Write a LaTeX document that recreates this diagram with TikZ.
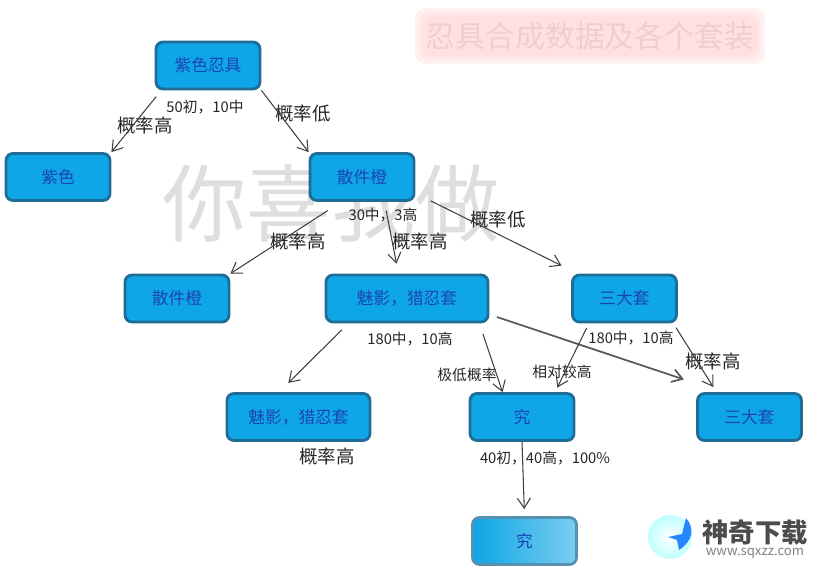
\documentclass[tikz,border=0pt]{standalone}
\usepackage{fontspec}
\setmainfont{Noto Sans CJK SC}
\usetikzlibrary{arrows.meta}
\definecolor{boxblue}{HTML}{0EA6E6}
\definecolor{boxtext}{HTML}{1B45B5}
\definecolor{boxline}{HTML}{1F6C96}
\newcommand{\zhc}{\char"FF0C\relax}
\tikzstyle{arrow}=[draw=black!75, line width=0.6pt, ->, >={Straight Barb[length=2mm, width=2.6mm]}]
\tikzstyle{box}=[draw=boxline, line width=1.6pt, fill=boxblue, rounded corners=4pt, minimum width=2.08cm, minimum height=0.94cm, text=boxtext, font=\fontsize{9.5}{11}\selectfont, inner sep=0pt]
\tikzstyle{small}=[text=black!85, font=\fontsize{8.4}{10}\selectfont, inner sep=0pt]
\tikzstyle{big}=[text=black!85, font=\fontsize{10.5}{12}\selectfont, inner sep=0pt]

\begin{document}
\begin{tikzpicture}
	\useasboundingbox (0, 0) rectangle (16.38, 11.58);
	% watermark and title
	\node (mark) at (6.62, 7.50) {\textcolor{black!13}{\fontsize{48}{52}\selectfont 你喜我做}};
	\foreach \s in {0.20, 0.12, 0.05}
		\fill[pink!70, opacity=0.3, rounded corners=6pt] (8.50-\s, 10.50-\s) rectangle (15.10+\s, 11.22+\s);
	\node (title) at (11.80, 10.86) {\textcolor{black!12!pink!55}{\fontsize{17}{20}\selectfont 忍具合成数据及各个套装}};
	% first row
	\node[box] (top) at (4.16, 10.27) {紫色忍具};
	\node[box] (purple) at (1.16, 8.04) {紫色};
	\node[box] (orange) at (7.24, 8.04) {散件橙};
	% second row
	\node[box] (orange2) at (3.54, 5.61) {散件橙};
	\node[box, minimum width=3.24cm] (phantom) at (8.14, 5.61) {魅影\zhc 猎忍套};
	\node[box] (three) at (12.49, 5.61) {三大套};
	% third row
	\node[box, minimum width=2.86cm] (phantom2) at (5.97, 3.24) {魅影\zhc 猎忍套};
	\node[box] (jiu) at (10.44, 3.24) {究};
	\node[box] (three2) at (14.99, 3.24) {三大套};
	\node[box, left color=boxblue, right color=boxblue!55!white, draw=boxline!75] (jiu2) at (10.49, 0.76) {究};
	% labels
	\node[small] (l1) at (4.10, 9.44) {50初\zhc 10中};
	\node[big] (l2) at (2.90, 9.08) {概率高};
	\node[big] (l3) at (6.06, 9.32) {概率低};
	\node[small] (l4) at (7.66, 7.28) {30中\zhc 3高};
	\node[big] (l5) at (5.96, 6.76) {概率高};
	\node[big] (l6) at (8.40, 6.76) {概率高};
	\node[big] (l7) at (9.96, 7.20) {概率低};
	\node[small] (l8) at (8.20, 4.80) {180中\zhc 10高};
	\node[small] (l9) at (9.34, 4.08) {极低概率};
	\node[small] (l10) at (11.24, 4.14) {相对较高};
	\node[small] (l11) at (12.62, 4.82) {180中\zhc 10高};
	\node[big] (l12) at (14.26, 4.36) {概率高};
	\node[big] (l13) at (6.54, 2.46) {概率高};
	\node[small] (l14) at (10.90, 2.42) {40初\zhc 40高\zhc 100\%};
	% arrows
	\draw[arrow, shorten <=0.16cm] (top.208) -- (purple.north east);
	\draw[arrow] (top.south east) -- (orange.north west);
	\draw[arrow, shorten <=0.32cm] (orange.230) -- (orange2.north east);
	\draw[arrow, shorten <=0.18cm, shorten >=0.2cm] (orange.312) -- (phantom.109);
	\draw[arrow, shorten <=0.34cm, shorten >=0.36cm] (orange.343) -- (three.152);
	\draw[arrow, shorten <=0.18cm, shorten >=0.26cm] (phantom.203) -- (phantom2.128);
	\draw[arrow, shorten <=0.22cm] (phantom.341) -- (jiu.128);
	\draw[arrow, line width=1pt, draw=black!65, shorten <=0.16cm, shorten >=0.8cm] (phantom.349) -- (three2.138);
	\draw[arrow, shorten <=0.1cm, shorten >=0.1cm] (three.215) -- (jiu.37);
	\draw[arrow, shorten <=0.1cm, shorten >=0.12cm] (three.333) -- (three2.143);
	\draw[arrow, shorten >=0.14cm] (jiu.south) -- (jiu2.north);
	% logo
	\shade[inner color=white, outer color=cyan!25] (13.40, 0.84) circle (0.44);
	\fill[blue!55!cyan!85] (13.58, 0.58) -- (13.54, 0.78) -- (13.36, 0.84) -- (13.64, 0.90) -- (13.72, 1.22) .. controls (13.90, 1.02) and (13.86, 0.76) .. (13.58, 0.58);
	\node[inner sep=0pt] (logo) at (15.10, 0.92) {\textcolor{black!70}{\fontsize{15}{17}\selectfont\bfseries 神奇下载}};
	\node[inner sep=0pt] (site) at (15.10, 0.52) {\textcolor{black!50}{\fontsize{7.5}{9}\selectfont www.sqxzz.com}};
\end{tikzpicture}
\end{document}
